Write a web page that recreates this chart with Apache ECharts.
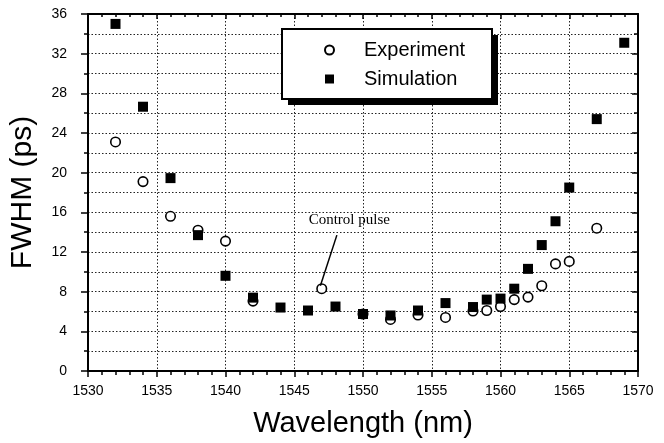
<!DOCTYPE html>
<html>
<head>
<meta charset="utf-8">
<script src="https://cdn.jsdelivr.net/npm/echarts@6/dist/echarts.min.js"></script>
<style>
html,body{margin:0;padding:0;background:#fff;}
#chart{width:664px;height:443px;}
</style>
</head>
<body>
<div id="chart"></div>
<script>
// ---- data ----
const expWavelength = [1532,1534,1536,1538,1540,1542,1547,1550,1552,1554,1556,1558,1559,1560,1561,1562,1563,1564,1565,1567];
const expFwhm       = [23.1,19.1,15.6,14.2,13.1,7.05,8.3,5.75,5.2,5.65,5.4,6.05,6.1,6.5,7.2,7.45,8.6,10.8,11.05,14.4];
const simWavelength = [1532,1534,1536,1538,1540,1542,1544,1546,1548,1550,1552,1554,1556,1558,1559,1560,1561,1562,1563,1564,1565,1567,1569];
const simFwhm       = [35.0,26.65,19.45,13.7,9.6,7.4,6.4,6.1,6.5,5.75,5.6,6.1,6.85,6.45,7.2,7.3,8.3,10.3,12.7,15.1,18.5,25.4,33.1];
const seriesNames = ['Experiment','Simulation'];
const xRange = {min:1530, max:1570, interval:5};
const yRange = {min:0, max:36, interval:4};
const annotationText = 'Control pulse';
const annotationArrow = [[1548.1, 13.7],[1546.9, 8.6]];
const annotationLabelPos = [1549.0, 15.2];

const font = "'Liberation Sans', Arial, sans-serif";
const chart = echarts.init(document.getElementById('chart'), null, {renderer:'canvas'});
const pairs = (xs, ys) => xs.map((x,i)=>[x, ys[i]]);

const gridDotted = {show:true, lineStyle:{color:'#222', width:1, type:[1.5,2]}};

chart.setOption({
  backgroundColor:'#fff',
  animation:false,
  grid:{left:85, right:26, top:14, bottom:70},
  graphic:[
    {type:'rect', z:90, shape:{x:288, y:35, width:210, height:70}, style:{fill:'#000'}, silent:true},
    {type:'rect', z:91, shape:{x:282, y:29, width:210, height:70}, style:{fill:'#fff', stroke:'#000', lineWidth:2}, silent:true}
  ],
  legend:{
    orient:'vertical',
    left:282, top:29,
    padding:[11, 10, 10, 42],
    itemGap:9,
    itemWidth:9, itemHeight:9,
    z:100,
    textStyle:{fontFamily:font, fontSize:20, color:'#000', padding:[0,0,0,25]},
    data:[{name:seriesNames[0], icon:'circle'},{name:seriesNames[1], icon:'rect'}]
  },
  xAxis:[{
    type:'value', min:xRange.min, max:xRange.max, interval:xRange.interval,
    position:'bottom',
    name:'Wavelength (nm)', nameLocation:'middle', nameGap:38,
    nameTextStyle:{fontFamily:font, fontSize:29, color:'#000'},
    axisLine:{show:true, onZero:false, lineStyle:{color:'#000', width:2}},
    axisTick:{show:true, inside:false, length:6, lineStyle:{color:'#000', width:1.5}},
    minorTick:{show:true, splitNumber:5, length:4, lineStyle:{color:'#000', width:1.5}},
    axisLabel:{fontFamily:font, fontSize:14, color:'#000', margin:13, formatter:v=>String(v)},
    splitLine:gridDotted,
    minorSplitLine:{show:false}
  },{
    type:'value', min:xRange.min, max:xRange.max, interval:xRange.interval,
    position:'top',
    axisLine:{show:true, onZero:false, lineStyle:{color:'#000', width:2}},
    axisTick:{show:true, inside:true, length:5, lineStyle:{color:'#000', width:1.5}},
    minorTick:{show:true, splitNumber:5, length:3, lineStyle:{color:'#000', width:1.5}},
    axisLabel:{show:false},
    splitLine:{show:false}
  }],
  yAxis:[{
    type:'value', min:yRange.min, max:yRange.max, interval:yRange.interval,
    position:'left',
    name:'FWHM (ps)', nameLocation:'middle', nameGap:50,
    nameTextStyle:{fontFamily:font, fontSize:30, color:'#000'},
    axisLine:{show:true, onZero:false, lineStyle:{color:'#000', width:2}},
    axisTick:{show:true, inside:false, length:7, lineStyle:{color:'#000', width:1.5}},
    minorTick:{show:true, splitNumber:2, length:4, lineStyle:{color:'#000', width:1.5}},
    axisLabel:{fontFamily:font, fontSize:14, color:'#000', margin:21},
    splitLine:gridDotted,
    minorSplitLine:gridDotted
  },{
    type:'value', min:yRange.min, max:yRange.max, interval:yRange.interval,
    position:'right',
    axisLine:{show:true, onZero:false, lineStyle:{color:'#000', width:2}},
    axisTick:{show:true, inside:true, length:6, lineStyle:{color:'#000', width:1.5}},
    minorTick:{show:true, splitNumber:2, length:4, lineStyle:{color:'#000', width:1.5}},
    axisLabel:{show:false},
    splitLine:{show:false}
  }],
  series:[{
    name:seriesNames[0], type:'scatter', xAxisIndex:0, yAxisIndex:0,
    symbol:'circle', symbolSize:9.5, z:2,
    itemStyle:{color:'#fff', borderColor:'#000', borderWidth:1.6, opacity:1},
    data:pairs(expWavelength, expFwhm),
    markLine:{
      silent:true, symbol:['none','arrow'], symbolSize:[0,9],
      lineStyle:{color:'#000', width:1.5, type:'solid'},
      label:{show:false},
      data:[[{coord:annotationArrow[0]},{coord:annotationArrow[1]}]]
    },
    markPoint:{
      silent:true, symbol:'circle', symbolSize:1,
      itemStyle:{color:'rgba(0,0,0,0)'},
      label:{show:true, position:'inside', formatter:annotationText,
        fontFamily:"'Liberation Serif', 'Times New Roman', serif", fontSize:15, color:'#000'},
      data:[{coord:annotationLabelPos}]
    }
  },{
    name:seriesNames[1], type:'scatter', xAxisIndex:0, yAxisIndex:0,
    symbol:'rect', symbolSize:10, z:3,
    itemStyle:{color:'#000', opacity:1},
    data:pairs(simWavelength, simFwhm)
  }]
});
</script>
</body>
</html>
